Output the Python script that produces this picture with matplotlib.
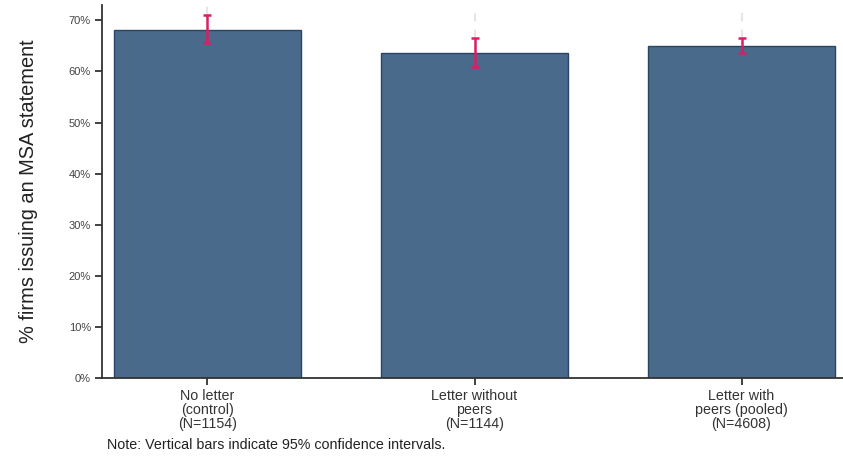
import matplotlib
matplotlib.use("Agg")
import matplotlib.pyplot as plt
from matplotlib.ticker import FuncFormatter

plt.rcParams['font.family'] = ['Liberation Sans', 'DejaVu Sans']

categories = ["No letter\n(control)\n(N=1154)",
              "Letter without\npeers\n(N=1144)",
              "Letter with\npeers (pooled)\n(N=4608)"]
share = [68.1, 63.7, 65.0]          # % firms issuing an MSA statement
ci_low = [65.5, 60.9, 63.7]
ci_high = [71.0, 66.5, 66.5]
yticks = [0, 10, 20, 30, 40, 50, 60, 70]

fig = plt.figure(figsize=(8.43, 4.61), dpi=100)
ax = fig.add_axes([0.121, 0.18, 0.879, 0.809])

x = list(range(len(categories)))
ax.bar(x, share, width=0.7, color="#4a6a8b", edgecolor="#2a4566", linewidth=1.0, zorder=2)

ymax = 73.0
# faint dashed guide above each interval
for xi, hi in zip(x, ci_high):
    ax.plot([xi, xi], [hi, ymax], color="#e6e6e6", linestyle=(0, (4, 4)), linewidth=1.5, zorder=1)

err_lo = [s - l for s, l in zip(share, ci_low)]
err_hi = [h - s for s, h in zip(share, ci_high)]
ax.errorbar(x, share, yerr=[err_lo, err_hi], fmt="none", ecolor="#d81f63",
            elinewidth=1.8, capsize=3, capthick=1.8, zorder=3)

ax.set_xlim(-0.395, 2.38)
ax.set_ylim(0, ymax)
ax.set_yticks(yticks)
ax.yaxis.set_major_formatter(FuncFormatter(lambda v, p: f"{int(v)}%"))
ax.set_xticks(x)
ax.set_xticklabels(categories, fontsize=10.3, color="#333333", linespacing=1.0)

for side in ("top", "right"):
    ax.spines[side].set_visible(False)
for side in ("left", "bottom"):
    ax.spines[side].set_color("#333333")
    ax.spines[side].set_linewidth(1.3)

ax.tick_params(axis="y", labelsize=8, labelcolor="#444444", length=5, width=1.3, color="#333333", pad=3)
ax.tick_params(axis="x", length=5, width=1.3, color="#333333", pad=3)

ax.set_ylabel("% firms issuing an MSA statement", fontsize=14.4, color="#222222")
ax.yaxis.set_label_coords(-0.086, 0.5)

fig.text(0.127, 0.02, "Note: Vertical bars indicate 95% confidence intervals.",
         fontsize=10.3, color="#222222", ha="left", va="bottom")

fig.savefig("out.png", dpi=100)
